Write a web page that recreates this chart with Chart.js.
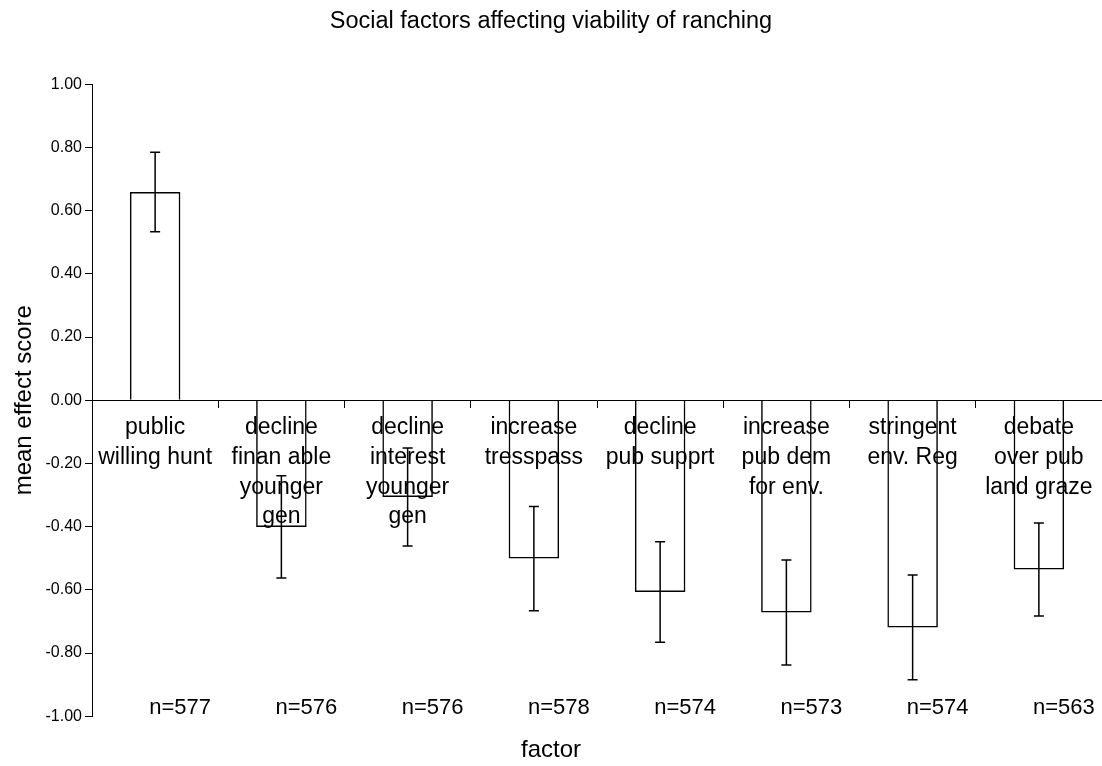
<!DOCTYPE html>
<html>
<head>
<meta charset="utf-8">
<script src="https://cdn.jsdelivr.net/npm/chart.js@4/dist/chart.umd.min.js"></script>
<style>
  html, body { margin: 0; padding: 0; background: #fff; }
  #wrap { width: 1102px; height: 766px; position: relative; }
</style>
</head>
<body>
<div id="wrap"><canvas id="myChart"></canvas></div>
<script>
const FONT = "'Liberation Sans', Arial, sans-serif"

// data
const categories = [
  ['public', 'willing hunt'],
  ['decline', 'finan able', 'younger', 'gen'],
  ['decline', 'interest', 'younger', 'gen'],
  ['increase', 'tresspass'],
  ['decline', 'pub supprt'],
  ['increase', 'pub dem', 'for env.'],
  ['stringent', 'env. Reg'],
  ['debate', 'over pub', 'land graze']
]
const means = [0.659, -0.401, -0.306, -0.501, -0.607, -0.672, -0.719, -0.536]
const errors = [0.126, 0.162, 0.155, 0.165, 0.159, 0.166, 0.166, 0.147]
const sampleSizes = [577, 576, 576, 578, 574, 573, 574, 563]
const yTicks = [-1, -0.8, -0.6, -0.4, -0.2, 0, 0.2, 0.4, 0.6, 0.8, 1]

// error bars + n= labels, positioned from the chart's own scales
const extras = {
  id: 'extras',
  afterDatasetsDraw (chart) {
    const { ctx, scales: { y } } = chart
    const meta = chart.getDatasetMeta(0)
    ctx.save()
    ctx.strokeStyle = '#000'
    ctx.lineWidth = 1.5
    meta.data.forEach((bar, i) => {
      const hi = y.getPixelForValue(means[i] + errors[i])
      const lo = y.getPixelForValue(means[i] - errors[i])
      ctx.beginPath()
      ctx.moveTo(bar.x, hi); ctx.lineTo(bar.x, lo)
      ctx.moveTo(bar.x - 5, hi); ctx.lineTo(bar.x + 5, hi)
      ctx.moveTo(bar.x - 5, lo); ctx.lineTo(bar.x + 5, lo)
      ctx.stroke()
    })
    // sample sizes, sitting just above the -1.00 line
    ctx.fillStyle = '#000'
    ctx.font = '22px ' + FONT
    ctx.textAlign = 'center'
    ctx.textBaseline = 'middle'
    const ny = y.getPixelForValue(y.min) - 8
    meta.data.forEach((bar, i) => {
      ctx.fillText('n=' + sampleSizes[i], bar.x + 25, ny)
    })
    ctx.restore()
  }
}

const ctx = document.getElementById('myChart')

new Chart(ctx, {
  type: 'bar',
  data: {
    labels: categories,
    datasets: [{
      data: means,
      // hollow bars so the category text shows through, as in the original
      backgroundColor: 'rgba(255,255,255,0)',
      borderColor: '#000',
      borderWidth: 1.5,
      barPercentage: 0.4,
      categoryPercentage: 1
    }]
  },
  options: {
    responsive: true,
    maintainAspectRatio: false,
    animation: false,
    layout: { padding: { left: 0, right: 0, top: 0, bottom: 0 } },
    plugins: {
      legend: { display: false },
      tooltip: { enabled: false },
      title: {
        display: true,
        text: 'Social factors affecting viability of ranching',
        color: '#000',
        font: { family: FONT, size: 23.5, weight: 'normal' },
        padding: { top: 7, bottom: 49 }
      },
      subtitle: {
        display: true,
        position: 'bottom',
        text: 'factor',
        color: '#000',
        font: { family: FONT, size: 24, weight: 'normal' },
        padding: { top: 20, bottom: 1 }
      }
    },
    scales: {
      x: {
        position: { y: 0 },
        grid: {
          display: true,
          offset: true,
          drawOnChartArea: false,
          drawTicks: true,
          tickLength: 7,
          color: '#000'
        },
        border: { display: true, color: '#000', width: 1 },
        ticks: {
          color: '#000',
          font: { family: FONT, size: 23, lineHeight: 1.29 },
          padding: 6,
          autoSkip: false,
          maxRotation: 0,
          minRotation: 0
        }
      },
      y: {
        min: -1,
        max: 1,
        afterFit (scale) { scale.width = 92 },
        afterBuildTicks (scale) { scale.ticks = yTicks.map(v => ({ value: v })) },
        grid: {
          display: true,
          drawOnChartArea: false,
          drawTicks: true,
          tickLength: 7,
          color: '#000'
        },
        border: { display: true, color: '#000', width: 1 },
        ticks: {
          color: '#000',
          font: { family: FONT, size: 16 },
          padding: 3,
          callback: v => (Math.abs(v) < 1e-9 ? 0 : v).toFixed(2)
        },
        title: {
          display: true,
          text: 'mean effect score',
          color: '#000',
          font: { family: FONT, size: 24 },
          padding: { top: 10, bottom: 0 }
        }
      }
    }
  },
  plugins: [extras]
})
</script>
</body>
</html>
